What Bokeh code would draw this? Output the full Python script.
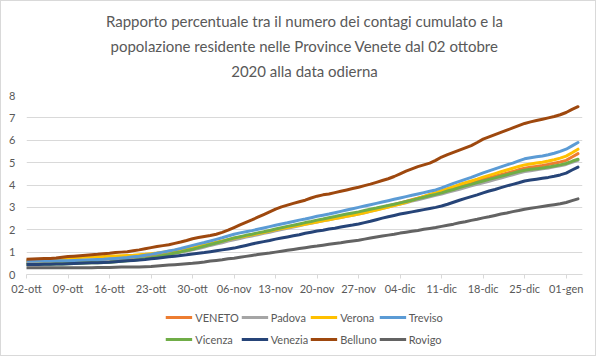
import pandas as pd
from bokeh.plotting import figure
from bokeh.layouts import column
from bokeh.models import Range1d, FixedTicker, Legend, LegendItem, Title
from bokeh.embed import file_html
from bokeh.resources import INLINE

title_lines = [
    "Rapporto percentuale tra il numero dei contagi cumulato e la",
    "popolazione residente nelle Province Venete dal 02 ottobre",
    "2020 alla data odierna",
]

start_date = "2020-10-02"
n_days = 94

tick_dates = ["2020-10-02", "2020-10-09", "2020-10-16", "2020-10-23", "2020-10-30",
              "2020-11-06", "2020-11-13", "2020-11-20", "2020-11-27", "2020-12-04",
              "2020-12-11", "2020-12-18", "2020-12-25", "2021-01-01"]
tick_labels = ["02-ott", "09-ott", "16-ott", "23-ott", "30-ott", "06-nov", "13-nov",
               "20-nov", "27-nov", "04-dic", "11-dic", "18-dic", "25-dic", "01-gen"]
y_ticks = [0, 1, 2, 3, 4, 5, 6, 7, 8]

series_names = ["VENETO", "Padova", "Verona", "Treviso", "Vicenza", "Venezia", "Belluno", "Rovigo"]
series_colors = ["#ED7D31", "#A5A5A5", "#FFC000", "#5B9BD5", "#70AD47", "#264478", "#9E480E", "#636363"]

veneto = [0.55, 0.55, 0.56, 0.56, 0.57, 0.58, 0.59, 0.60,
          0.61, 0.62, 0.63, 0.64, 0.65, 0.66, 0.68,
          0.69, 0.71, 0.72, 0.74, 0.76, 0.79, 0.82,
          0.86, 0.90, 0.95, 1.00, 1.04, 1.10, 1.15,
          1.21, 1.27, 1.34, 1.40, 1.46, 1.53, 1.60,
          1.66, 1.72, 1.77, 1.83, 1.88, 1.94, 2.00,
          2.06, 2.12, 2.17, 2.23, 2.29, 2.34, 2.40,
          2.45, 2.50, 2.55, 2.60, 2.65, 2.70, 2.75,
          2.81, 2.87, 2.94, 3.00, 3.07, 3.13, 3.20,
          3.27, 3.34, 3.41, 3.48, 3.55, 3.62, 3.70,
          3.78, 3.86, 3.94, 4.02, 4.10, 4.17, 4.25,
          4.32, 4.39, 4.46, 4.53, 4.60, 4.68, 4.75,
          4.79, 4.83, 4.87, 4.92, 4.97, 5.03, 5.10,
          5.25, 5.40]
padova = [0.50, 0.50, 0.50, 0.51, 0.51, 0.51, 0.52, 0.52,
          0.53, 0.54, 0.54, 0.55, 0.56, 0.57, 0.58,
          0.60, 0.62, 0.64, 0.66, 0.69, 0.72, 0.75,
          0.80, 0.85, 0.90, 0.95, 1.00, 1.05, 1.10,
          1.16, 1.23, 1.30, 1.36, 1.42, 1.49, 1.55,
          1.61, 1.67, 1.72, 1.78, 1.84, 1.89, 1.95,
          2.01, 2.07, 2.12, 2.18, 2.24, 2.29, 2.35,
          2.40, 2.45, 2.50, 2.55, 2.60, 2.65, 2.70,
          2.76, 2.83, 2.89, 2.96, 3.02, 3.09, 3.15,
          3.21, 3.28, 3.34, 3.41, 3.47, 3.54, 3.60,
          3.67, 3.74, 3.81, 3.89, 3.96, 4.03, 4.10,
          4.17, 4.24, 4.31, 4.39, 4.46, 4.53, 4.60,
          4.64, 4.68, 4.72, 4.76, 4.81, 4.86, 4.92,
          5.01, 5.10]
verona = [0.62, 0.63, 0.64, 0.65, 0.67, 0.69, 0.71, 0.73,
          0.75, 0.76, 0.77, 0.78, 0.79, 0.80, 0.82,
          0.83, 0.84, 0.85, 0.86, 0.88, 0.90, 0.93,
          0.96, 1.00, 1.04, 1.08, 1.12, 1.16, 1.20,
          1.26, 1.32, 1.38, 1.44, 1.50, 1.56, 1.62,
          1.67, 1.72, 1.77, 1.83, 1.88, 1.94, 2.00,
          2.05, 2.10, 2.15, 2.20, 2.25, 2.30, 2.35,
          2.40, 2.45, 2.50, 2.55, 2.60, 2.65, 2.70,
          2.76, 2.82, 2.88, 2.95, 3.02, 3.08, 3.15,
          3.23, 3.32, 3.40, 3.49, 3.58, 3.66, 3.75,
          3.84, 3.93, 4.02, 4.10, 4.18, 4.26, 4.35,
          4.43, 4.51, 4.59, 4.67, 4.75, 4.83, 4.90,
          4.94, 4.98, 5.02, 5.07, 5.13, 5.20, 5.29,
          5.44, 5.60]
treviso = [0.60, 0.60, 0.61, 0.61, 0.61, 0.62, 0.62, 0.62,
           0.63, 0.64, 0.65, 0.66, 0.67, 0.68, 0.70,
           0.72, 0.74, 0.76, 0.79, 0.82, 0.86, 0.90,
           0.95, 1.00, 1.05, 1.10, 1.16, 1.23, 1.30,
           1.37, 1.43, 1.50, 1.57, 1.64, 1.72, 1.80,
           1.86, 1.91, 1.96, 2.02, 2.08, 2.14, 2.20,
           2.26, 2.31, 2.37, 2.43, 2.48, 2.54, 2.60,
           2.65, 2.70, 2.76, 2.82, 2.88, 2.94, 3.00,
           3.06, 3.12, 3.18, 3.24, 3.30, 3.36, 3.42,
           3.48, 3.54, 3.60, 3.66, 3.72, 3.78, 3.87,
           3.97, 4.07, 4.16, 4.25, 4.34, 4.44, 4.54,
           4.63, 4.72, 4.81, 4.90, 4.98, 5.08, 5.17,
           5.22, 5.26, 5.30, 5.35, 5.42, 5.50, 5.60,
           5.75, 5.90]
vicenza = [0.45, 0.45, 0.46, 0.46, 0.46, 0.47, 0.47, 0.48,
           0.49, 0.50, 0.51, 0.52, 0.53, 0.54, 0.55,
           0.57, 0.59, 0.61, 0.64, 0.67, 0.71, 0.75,
           0.80, 0.85, 0.90, 0.96, 1.01, 1.07, 1.13,
           1.20, 1.27, 1.34, 1.41, 1.48, 1.56, 1.63,
           1.69, 1.75, 1.80, 1.86, 1.91, 1.97, 2.03,
           2.09, 2.15, 2.20, 2.26, 2.32, 2.37, 2.43,
           2.48, 2.54, 2.59, 2.65, 2.70, 2.75, 2.80,
           2.86, 2.92, 2.97, 3.03, 3.08, 3.14, 3.20,
           3.26, 3.32, 3.39, 3.45, 3.52, 3.58, 3.65,
           3.73, 3.80, 3.88, 3.96, 4.03, 4.11, 4.18,
           4.25, 4.32, 4.39, 4.46, 4.53, 4.60, 4.66,
           4.70, 4.73, 4.76, 4.80, 4.85, 4.90, 4.96,
           5.06, 5.15]
venezia = [0.45, 0.45, 0.45, 0.46, 0.46, 0.47, 0.47, 0.48,
           0.49, 0.50, 0.51, 0.52, 0.53, 0.54, 0.55,
           0.57, 0.59, 0.61, 0.63, 0.65, 0.67, 0.70,
           0.73, 0.76, 0.79, 0.82, 0.85, 0.88, 0.92,
           0.95, 0.98, 1.02, 1.06, 1.10, 1.14, 1.18,
           1.24, 1.30, 1.36, 1.42, 1.47, 1.52, 1.58,
           1.63, 1.68, 1.73, 1.78, 1.84, 1.89, 1.94,
           1.98, 2.03, 2.07, 2.12, 2.17, 2.21, 2.26,
           2.32, 2.38, 2.45, 2.52, 2.58, 2.64, 2.70,
           2.75, 2.80, 2.85, 2.90, 2.95, 3.00, 3.06,
           3.14, 3.23, 3.32, 3.40, 3.48, 3.56, 3.65,
           3.73, 3.80, 3.88, 3.96, 4.03, 4.10, 4.18,
           4.22, 4.26, 4.30, 4.34, 4.39, 4.45, 4.53,
           4.67, 4.80]
belluno = [0.68, 0.69, 0.70, 0.71, 0.72, 0.74, 0.77, 0.80,
           0.82, 0.84, 0.86, 0.88, 0.90, 0.93, 0.95,
           0.98, 1.00, 1.02, 1.06, 1.10, 1.15, 1.20,
           1.25, 1.29, 1.33, 1.39, 1.45, 1.52, 1.60,
           1.65, 1.70, 1.74, 1.80, 1.88, 1.98, 2.10,
           2.22, 2.33, 2.44, 2.56, 2.68, 2.80, 2.92,
           3.02, 3.10, 3.18, 3.25, 3.32, 3.42, 3.50,
           3.56, 3.60, 3.66, 3.72, 3.78, 3.84, 3.90,
           3.97, 4.04, 4.12, 4.20, 4.28, 4.38, 4.50,
           4.62, 4.72, 4.82, 4.90, 4.98, 5.10, 5.25,
           5.36, 5.46, 5.56, 5.66, 5.76, 5.90, 6.05,
           6.15, 6.25, 6.35, 6.45, 6.55, 6.65, 6.75,
           6.82, 6.88, 6.94, 7.00, 7.06, 7.14, 7.24,
           7.38, 7.50]
rovigo = [0.30, 0.30, 0.30, 0.30, 0.30, 0.30, 0.30, 0.30,
          0.30, 0.30, 0.30, 0.30, 0.31, 0.31, 0.31,
          0.32, 0.33, 0.33, 0.34, 0.34, 0.35, 0.36,
          0.38, 0.40, 0.42, 0.44, 0.46, 0.48, 0.50,
          0.53, 0.56, 0.60, 0.63, 0.66, 0.70, 0.73,
          0.77, 0.81, 0.85, 0.89, 0.93, 0.96, 1.00,
          1.04, 1.08, 1.12, 1.16, 1.20, 1.24, 1.27,
          1.31, 1.35, 1.39, 1.42, 1.46, 1.50, 1.53,
          1.58, 1.63, 1.68, 1.72, 1.76, 1.80, 1.85,
          1.89, 1.93, 1.97, 2.02, 2.06, 2.10, 2.15,
          2.20, 2.25, 2.31, 2.36, 2.42, 2.47, 2.53,
          2.58, 2.64, 2.70, 2.75, 2.81, 2.86, 2.92,
          2.96, 3.00, 3.04, 3.08, 3.12, 3.16, 3.22,
          3.30, 3.38]

series_values = [veneto, padova, verona, treviso, vicenza, venezia, belluno, rovigo]

FONT = "Lato"
TXT = "#595959"
GRID = "#D9D9D9"

dates = pd.date_range(start_date, periods=n_days, freq="D")
x_ms = [d.value / 1e6 for d in dates]
day_ms = 86400000.0
tick_ms = [pd.Timestamp(d).value / 1e6 for d in tick_dates]

p = figure(width=594, height=300, output_backend="svg", toolbar_location=None,
           x_range=Range1d(x_ms[0], x_ms[0] + 93.76 * day_ms),
           y_range=Range1d(0, 8),
           min_border_left=25, min_border_right=13, min_border_top=94, min_border_bottom=27)
p.outline_line_color = None
p.background_fill_color = "white"
p.border_fill_color = "white"

p.xgrid.grid_line_color = None
p.ygrid.grid_line_color = GRID
p.ygrid.grid_line_width = 1

p.xaxis.ticker = FixedTicker(ticks=tick_ms)
p.xaxis.major_label_overrides = {t: lab for t, lab in zip(tick_ms, tick_labels)}
p.xaxis.axis_line_color = GRID
p.xaxis.major_tick_line_color = GRID
p.xaxis.major_tick_out = 4
p.xaxis.major_tick_in = 0
p.xaxis.minor_tick_line_color = None
p.xaxis.major_label_standoff = 3
p.xaxis.major_label_text_font = FONT
p.xaxis.major_label_text_font_size = "11px"
p.xaxis.major_label_text_color = TXT

p.yaxis.ticker = FixedTicker(ticks=y_ticks)
p.yaxis.axis_line_color = None
p.yaxis.major_tick_line_color = None
p.yaxis.major_tick_out = 0
p.yaxis.major_tick_in = 0
p.yaxis.minor_tick_line_color = None
p.yaxis.major_label_standoff = 11
p.yaxis.major_label_text_font = FONT
p.yaxis.major_label_text_font_size = "11px"
p.yaxis.major_label_text_color = TXT

for col, vals in zip(series_colors, series_values):
    p.line(x_ms, vals, line_width=3, line_color=col, line_join="round", line_cap="round")

# spacer keeps the last title line off the plot area
p.add_layout(Title(text=" ", text_font_size="7px", standoff=4), "above")
standoffs = [5, 5, 5]
for line, so in reversed(list(zip(title_lines, standoffs))):
    p.add_layout(Title(text=line, align="center", text_font=FONT, text_font_size="15px",
                       text_font_style="normal", text_color=TXT, standoff=so, offset=0), "above")

# legend strip
lg_fig = figure(width=594, height=54, output_backend="svg", toolbar_location=None,
                x_range=Range1d(0, 1), y_range=Range1d(0, 1),
                min_border=0, x_axis_location=None, y_axis_location=None)
lg_fig.outline_line_color = None
lg_fig.grid.grid_line_color = None
lg_fig.border_fill_color = "white"
items = []
for nm, col, vals in zip(series_names, series_colors, series_values):
    r = lg_fig.line(x=x_ms[:2], y=vals[:2], line_width=3, line_color=col)
    items.append(LegendItem(label=nm, renderers=[r]))

legend = Legend(items=items, orientation="horizontal", ncols=4, location="center",
                glyph_width=27, glyph_height=20, label_standoff=3, spacing=2,
                padding=0, margin=0, border_line_color=None, background_fill_alpha=0,
                label_text_font=FONT, label_text_font_size="11px", label_text_color=TXT,
                label_height=20)
lg_fig.add_layout(legend, "center")

layout = column(p, lg_fig, spacing=0, styles={"border": "1px solid #D9D9D9"})
open("out.html", "w").write(file_html(layout, INLINE))
